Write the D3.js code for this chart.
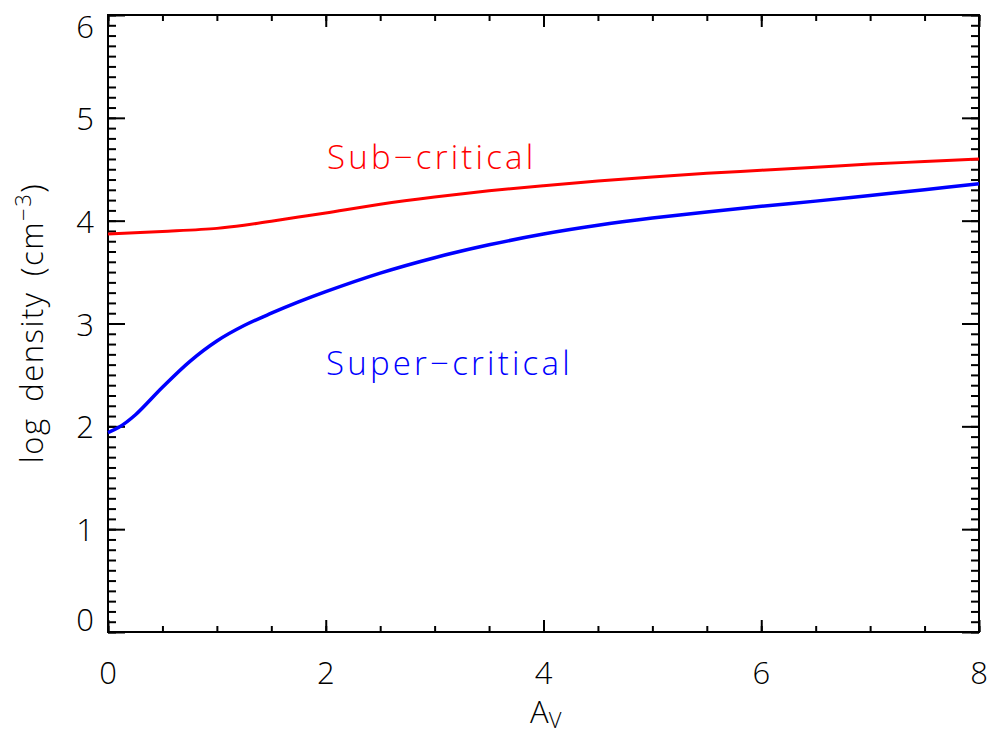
<!DOCTYPE html>
<html><head><meta charset="utf-8">
<script src="https://cdn.jsdelivr.net/npm/d3@7"></script>
<style>
body{margin:0;background:#fff;}
text{font-family:"Open Sans",sans-serif;font-weight:300;}
</style></head>
<body><svg id="c" width="992" height="738"></svg>
<script>
const xTicks = [0,2,4,6,8];
const yTicks = [0,1,2,3,4,5,6];
const superAv = [0,0.1,0.25,0.5,0.75,1.0,1.25,1.5,1.75,2.0,2.5,3.0,3.5,4.0,4.5,5.0,5.5,6.0,6.5,7.0,7.5,8.0];
const superDens = [1.94,1.99,2.11,2.38,2.63,2.83,2.98,3.10,3.21,3.31,3.49,3.64,3.765,3.87,3.955,4.025,4.085,4.14,4.19,4.245,4.30,4.36];
const subAv = [0,0.5,1.0,1.25,1.5,1.75,2.0,2.5,3.0,3.5,4.0,4.5,5.0,5.5,6.0,6.5,7.0,7.5,8.0];
const subDens = [3.87,3.895,3.925,3.955,3.995,4.035,4.075,4.16,4.23,4.29,4.34,4.385,4.425,4.46,4.49,4.52,4.55,4.575,4.60];
const labels = {sub:"Sub\u2212critical", sup:"Super\u2212critical"};

const svg = d3.select("#c");
const L=108,R=979,T=15,B=632;
const x = d3.scaleLinear().domain([0,8]).range([L,R]);
const y = d3.scaleLinear().domain([0,6]).range([B,T]);
const g = svg.append("g");

const xMinor = d3.range(0,8.001,0.5);
const yMinor = d3.range(0,6.001,0.1);
function styleAxis(sel){sel.select(".domain").remove();sel.selectAll("line").attr("stroke","#000").attr("stroke-width",2);sel.selectAll("text").remove();}
g.append("g").attr("transform",`translate(0,${B})`).call(d3.axisBottom(x).tickValues(xMinor).tickSize(-6)).call(styleAxis);
g.append("g").attr("transform",`translate(0,${B})`).call(d3.axisBottom(x).tickValues(xTicks).tickSize(-12)).call(styleAxis);
g.append("g").attr("transform",`translate(0,${T})`).call(d3.axisTop(x).tickValues(xMinor).tickSize(-6)).call(styleAxis);
g.append("g").attr("transform",`translate(0,${T})`).call(d3.axisTop(x).tickValues(xTicks).tickSize(-12)).call(styleAxis);
g.append("g").attr("transform",`translate(${L},0)`).call(d3.axisLeft(y).tickValues(yMinor).tickSize(-8)).call(styleAxis);
g.append("g").attr("transform",`translate(${L},0)`).call(d3.axisLeft(y).tickValues(yTicks).tickSize(-17)).call(styleAxis);
g.append("g").attr("transform",`translate(${R},0)`).call(d3.axisRight(y).tickValues(yMinor).tickSize(-8)).call(styleAxis);
g.append("g").attr("transform",`translate(${R},0)`).call(d3.axisRight(y).tickValues(yTicks).tickSize(-17)).call(styleAxis);

g.append("rect").attr("x",L).attr("y",T).attr("width",R-L).attr("height",B-T)
 .attr("fill","none").attr("stroke","#000").attr("stroke-width",2);

g.selectAll(".xl").data(xTicks).enter().append("text")
 .attr("x",d=>x(d)).attr("y",684).attr("text-anchor","middle").attr("font-size",31).text(d=>d);
g.selectAll(".yl").data(yTicks).enter().append("text")
 .attr("x",94).attr("y",d=> d===6 ? y(d)+23 : d===0 ? y(d)-1 : y(d)+12)
 .attr("text-anchor","end").attr("font-size",31).text(d=>d);

const line = d3.line().curve(d3.curveCatmullRom.alpha(0.5));
g.append("path").attr("d",line(superAv.map((a,i)=>[x(a),y(superDens[i])])))
 .attr("fill","none").attr("stroke","#0000ff").attr("stroke-width",3.5).attr("stroke-linejoin","round");
g.append("path").attr("d",line(subAv.map((a,i)=>[x(a),y(subDens[i])])))
 .attr("fill","none").attr("stroke","#ff0000").attr("stroke-width",3).attr("stroke-linejoin","round");

g.append("text").attr("x",327).attr("y",169).attr("font-size",33).attr("letter-spacing",3.2).attr("fill","#ff0000").text(labels.sub);
g.append("text").attr("x",326).attr("y",375).attr("font-size",33).attr("letter-spacing",3.2).attr("fill","#0000ff").text(labels.sup);

const xt = g.append("text").attr("x",530).attr("y",723).attr("font-size",31);
xt.append("tspan").text("A");
xt.append("tspan").attr("dy",5).attr("font-size",22).text("V");
const yt = g.append("text").attr("transform","translate(43,323) rotate(-90)").attr("text-anchor","middle").attr("font-size",31).attr("letter-spacing",1.5).attr("word-spacing",6);
yt.append("tspan").text("log density (cm");
yt.append("tspan").attr("dy",-12).attr("font-size",22).text("\u22123");
yt.append("tspan").attr("dy",12).text(")");
</script></body></html>
